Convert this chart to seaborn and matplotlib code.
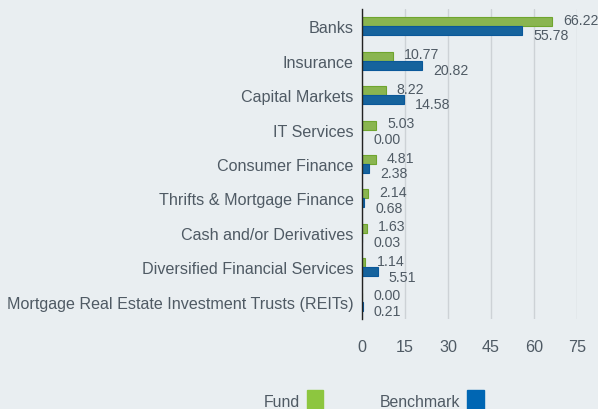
#!/usr/bin/env python3

import matplotlib
matplotlib.use('Agg')
import matplotlib.pyplot as plt
import pandas as pd
import seaborn as sns
from matplotlib.patches import Patch

# chart data
industries = [
    'Banks',
    'Insurance',
    'Capital Markets',
    'IT Services',
    'Consumer Finance',
    'Thrifts & Mortgage Finance',
    'Cash and/or Derivatives',
    'Diversified Financial Services',
    'Mortgage Real Estate Investment Trusts (REITs)',
]
fund = [66.22, 10.77, 8.22, 5.03, 4.81, 2.14, 1.63, 1.14, 0.00]
benchmark = [55.78, 20.82, 14.58, 0.00, 2.38, 0.68, 0.03, 5.51, 0.21]
series_names = ['Fund', 'Benchmark']
x_ticks = [0, 15, 30, 45, 60, 75]

BG = '#E9EEF1'
TXT = '#4F5A64'
GRID = '#CDD2D6'
colors = {'Fund': '#8DC63F', 'Benchmark': '#0066B3'}
edges = {'Fund': '#6FA52E', 'Benchmark': '#0A589A'}


def build_frame():
    rows = []
    for i, ind in enumerate(industries):
        rows.append({'Industry': ind, 'Series': 'Fund', 'Value': fund[i]})
        rows.append({'Industry': ind, 'Series': 'Benchmark', 'Value': benchmark[i]})
    return pd.DataFrame(rows)


def main():
    df = build_frame()
    sns.set_style('white')
    plt.rcParams['font.family'] = ['Liberation Sans', 'DejaVu Sans']

    fig = plt.figure(figsize=(5.98, 4.10), dpi=100, facecolor=BG)
    ax = fig.add_axes([362 / 598, 1 - 320 / 410, (577 - 362) / 598, 310 / 410])
    ax.set_facecolor(BG)

    sns.barplot(data=df, y='Industry', x='Value', hue='Series', order=industries,
                hue_order=series_names, palette=colors, width=0.52, ax=ax,
                legend=False, orient='h')

    # edge colours and value labels
    for cont, name in zip(ax.containers, series_names):
        for bar in cont:
            bar.set_edgecolor(edges[name])
            bar.set_linewidth(0.8)
        dy = 1.4 if name == 'Fund' else -3.4
        for bar, val in zip(cont, fund if name == 'Fund' else benchmark):
            ax.annotate(f'{val:.2f}', (bar.get_width(), bar.get_y() + bar.get_height() / 2),
                        xytext=(8, dy), textcoords='offset points',
                        ha='left', va='center', fontsize=10.2, color=TXT,
                        annotation_clip=False)

    ax.set_xlim(0, 75)
    ax.set_xticks(x_ticks)
    ax.set_xlabel('')
    ax.set_ylabel('')
    ax.grid(axis='x', color=GRID, linewidth=1)
    ax.set_axisbelow(True)
    for s in ['top', 'right', 'bottom']:
        ax.spines[s].set_visible(False)
    ax.spines['left'].set_color('#222222')
    ax.spines['left'].set_linewidth(1)
    ax.tick_params(axis='x', length=7.5, color=GRID, width=1, pad=7,
                   labelsize=11.6, labelcolor=TXT)
    ax.tick_params(axis='y', length=0, pad=6, labelsize=11.6, labelcolor=TXT)

    # legend at the bottom, label before the swatch
    handles = [Patch(facecolor=colors[n], edgecolor=colors[n]) for n in series_names]
    fig.legend(handles, series_names, loc='center', bbox_to_anchor=(0.625, 0.02),
               ncol=2, frameon=False, markerfirst=False, fontsize=11.4,
               labelcolor=TXT, handlelength=1.05, handleheight=1.8,
               handletextpad=0.4, columnspacing=3.6)

    fig.savefig('out.png', dpi=100, facecolor=BG)


if __name__ == '__main__':
    main()
